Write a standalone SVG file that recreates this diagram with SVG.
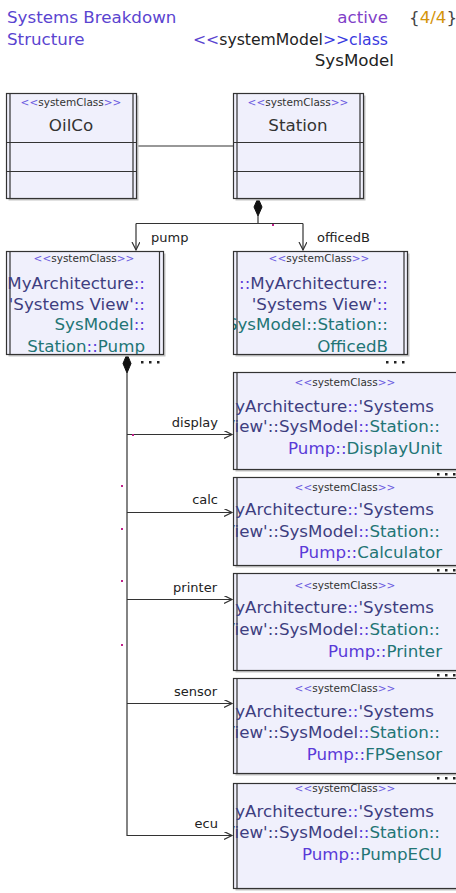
<svg xmlns="http://www.w3.org/2000/svg" width="456" height="893" viewBox="0 0 456 893">
<style>
text{font-family:"DejaVu Sans",Verdana,sans-serif}
.box{fill:#f0f0fc;stroke:#333;stroke-width:1.2}
.sh{fill:#c4c4c4}
.ln{stroke:#333;stroke-width:1.2;fill:none}
.st{font-size:10.5px;fill:#333;text-anchor:middle}
.g{fill:#6a5ae0}
.nm{font-size:16.7px;text-anchor:end}
.nc{font-size:16.7px;text-anchor:middle;fill:#333}
.nv{fill:#3e3e80}
.tl{fill:#227575}
.pp{fill:#5a3ad8}
.lbl{font-size:13px;fill:#222;text-anchor:end}
.lbs{font-size:13px;fill:#222;text-anchor:start}
.dot{fill:#222}
.mk{fill:#c0208a}
.hd{font-size:16.7px}
</style>
<defs>
<marker id="oa" markerWidth="10" markerHeight="10" refX="8" refY="4" orient="auto" markerUnits="userSpaceOnUse"><path d="M0,0 L8,4 L0,8" fill="none" stroke="#333" stroke-width="1.2"/></marker>
<clipPath id="cpump"><rect x="7" y="252" width="151" height="102"/></clipPath>
<clipPath id="coff"><rect x="234" y="252" width="170" height="102"/></clipPath>
<clipPath id="cright"><rect x="234" y="360" width="222" height="533"/></clipPath>
</defs>

<g id="header">
<text class="hd" x="7" y="23" fill="#5a44d0">Systems Breakdown</text>
<text class="hd" x="7" y="45" fill="#5a44d0">Structure</text>
<text class="hd" x="388" y="23" fill="#8040c8" text-anchor="end">active</text>
<text class="hd" x="409" y="23" fill="#444">{<tspan fill="#d4940a">4/4</tspan>}</text>
<text class="hd" x="388" y="45" text-anchor="end" textLength="195" lengthAdjust="spacingAndGlyphs"><tspan fill="#5a44d0">&lt;&lt;</tspan><tspan fill="#222">systemModel</tspan><tspan fill="#3a3ae0">&gt;&gt;class</tspan></text>
<text class="hd" x="394" y="66" fill="#222" text-anchor="end">SysModel</text>
</g>

<g id="connectors">
<path class="ln" d="M137,146 H233"/>
<polygon points="258,198 262,207 258,216 254,207" fill="#111" stroke="#111"/>
<path class="ln" d="M258,216 V223.5"/>
<path class="ln" d="M136,223.5 H303"/>
<path class="ln" d="M136,223.5 V250" marker-end="url(#oa)"/>
<path class="ln" d="M303,223.5 V250" marker-end="url(#oa)"/>
<text class="lbs" x="151" y="242">pump</text>
<text class="lbs" x="317" y="242">officedB</text>
<polygon points="127,354 131,363.5 127,373 123,363.5" fill="#111" stroke="#111"/>
<path class="ln" d="M127,373 V835.5 H232" marker-end="url(#oa)"/>
<path class="ln" d="M127,434.5 H232" marker-end="url(#oa)"/>
<path class="ln" d="M127,512.5 H232" marker-end="url(#oa)"/>
<path class="ln" d="M127,599.5 H232" marker-end="url(#oa)"/>
<path class="ln" d="M127,703.5 H232" marker-end="url(#oa)"/>
<text class="lbl" x="218" y="427">display</text>
<text class="lbl" x="218" y="504">calc</text>
<text class="lbl" x="217" y="592">printer</text>
<text class="lbl" x="217" y="696">sensor</text>
<text class="lbl" x="218" y="828">ecu</text>
<rect class="mk" x="272" y="224" width="2" height="2"/>
<rect class="mk" x="132" y="434" width="2" height="2"/>
<rect class="mk" x="121" y="485" width="2" height="2"/>
<rect class="mk" x="121" y="528" width="2" height="2"/>
<rect class="mk" x="121" y="580" width="2" height="2"/>
<rect class="mk" x="121" y="644" width="2" height="2"/>
</g>

<g id="oilco">
<rect class="sh" x="8.5" y="95.5" width="130" height="105"/>
<rect class="box" x="6.5" y="93.5" width="130" height="105"/>
<path class="ln" d="M10,93.5 V198.5 M133,93.5 V198.5 M6.5,142.5 H136.5 M6.5,171.5 H136.5"/>
<text class="st" x="71" y="106"><tspan class="g">&lt;&lt;</tspan>systemClass<tspan class="g">&gt;&gt;</tspan></text>
<text class="nc" x="71" y="131">OilCo</text>
</g>

<g id="station">
<rect class="sh" x="235.5" y="95.5" width="130" height="105"/>
<rect class="box" x="233.5" y="93.5" width="130" height="105"/>
<path class="ln" d="M237,93.5 V198.5 M360,93.5 V198.5 M233.5,142.5 H363.5 M233.5,171.5 H363.5"/>
<text class="st" x="298" y="106"><tspan class="g">&lt;&lt;</tspan>systemClass<tspan class="g">&gt;&gt;</tspan></text>
<text class="nc" x="298" y="131">Station</text>
</g>

<g id="pump">
<rect class="sh" x="8.5" y="253.5" width="157" height="103"/>
<rect class="box" x="6.5" y="251.5" width="157" height="103"/>
<path class="ln" d="M10,251.5 V354.5 M159.5,251.5 V354.5"/>
<text class="st" x="84" y="262"><tspan class="g">&lt;&lt;</tspan>systemClass<tspan class="g">&gt;&gt;</tspan></text>
<g clip-path="url(#cpump)">
<text class="nm" x="145" y="289"><tspan class="nv">MyArchitecture</tspan><tspan class="pp">::</tspan></text>
<text class="nm" x="145" y="310"><tspan class="nv">'Systems View'</tspan><tspan class="pp">::</tspan></text>
<text class="nm" x="145" y="330"><tspan class="tl">SysModel</tspan><tspan class="pp">::</tspan></text>
<text class="nm" x="145" y="352"><tspan class="tl">Station</tspan><tspan class="pp">::</tspan><tspan class="tl">Pump</tspan></text>
</g>
<rect class="dot" x="141" y="361" width="2.5" height="2.5"/>
<rect class="dot" x="149" y="361" width="2.5" height="2.5"/>
<rect class="dot" x="157" y="361" width="2.5" height="2.5"/>
</g>

<g id="officedb">
<rect class="sh" x="235.5" y="253.5" width="174" height="103"/>
<rect class="box" x="233.5" y="251.5" width="174" height="103"/>
<path class="ln" d="M237,251.5 V354.5 M404,251.5 V354.5"/>
<text class="st" x="319" y="262"><tspan class="g">&lt;&lt;</tspan>systemClass<tspan class="g">&gt;&gt;</tspan></text>
<g clip-path="url(#coff)">
<text class="nm" x="388" y="289"><tspan class="pp">::</tspan><tspan class="nv">MyArchitecture</tspan><tspan class="pp">::</tspan></text>
<text class="nm" x="388" y="310"><tspan class="nv">'Systems View'</tspan><tspan class="pp">::</tspan></text>
<text class="nm" x="388" y="330"><tspan class="tl">SysModel::Station::</tspan></text>
<text class="nm" x="388" y="352"><tspan class="tl">OfficedB</tspan></text>
</g>
<rect class="dot" x="386" y="361" width="2.5" height="2.5"/>
<rect class="dot" x="394" y="361" width="2.5" height="2.5"/>
<rect class="dot" x="402" y="361" width="2.5" height="2.5"/>
</g>

<g id="displayunit">
<rect class="sh" x="235.5" y="374.5" width="240" height="97"/>
<rect class="box" x="233.5" y="372.5" width="240" height="97"/>
<path class="ln" d="M237,372.5 V469.5"/>
<text class="st" x="345" y="386"><tspan class="g">&lt;&lt;</tspan>systemClass<tspan class="g">&gt;&gt;</tspan></text>
<g clip-path="url(#cright)">
<text class="nm" x="434" y="412"><tspan class="nv">MyArchitecture</tspan><tspan class="pp">::</tspan><tspan class="nv">'Systems</tspan></text>
<text class="nm" x="440" y="432"><tspan class="nv">View'::SysModel</tspan><tspan class="pp">::</tspan><tspan class="tl">Station::</tspan></text>
<text class="nm" x="442" y="454"><tspan class="pp">Pump::</tspan><tspan class="tl">DisplayUnit</tspan></text>
</g>
<rect class="dot" x="437" y="473" width="2.5" height="2.5"/>
<rect class="dot" x="445" y="473" width="2.5" height="2.5"/>
<rect class="dot" x="453" y="473" width="2.5" height="2.5"/>
</g>

<g id="calculator">
<rect class="sh" x="235.5" y="479.5" width="240" height="88"/>
<rect class="box" x="233.5" y="477.5" width="240" height="88"/>
<path class="ln" d="M237,477.5 V565.5"/>
<text class="st" x="345" y="491"><tspan class="g">&lt;&lt;</tspan>systemClass<tspan class="g">&gt;&gt;</tspan></text>
<g clip-path="url(#cright)">
<text class="nm" x="434" y="515"><tspan class="nv">MyArchitecture</tspan><tspan class="pp">::</tspan><tspan class="nv">'Systems</tspan></text>
<text class="nm" x="440" y="537"><tspan class="nv">View'::SysModel</tspan><tspan class="pp">::</tspan><tspan class="tl">Station::</tspan></text>
<text class="nm" x="442" y="558"><tspan class="pp">Pump::</tspan><tspan class="tl">Calculator</tspan></text>
</g>
<rect class="dot" x="437" y="569" width="2.5" height="2.5"/>
<rect class="dot" x="445" y="569" width="2.5" height="2.5"/>
<rect class="dot" x="453" y="569" width="2.5" height="2.5"/>
</g>

<g id="printer">
<rect class="sh" x="235.5" y="575.5" width="240" height="97"/>
<rect class="box" x="233.5" y="573.5" width="240" height="97"/>
<path class="ln" d="M237,573.5 V670.5"/>
<text class="st" x="345" y="589"><tspan class="g">&lt;&lt;</tspan>systemClass<tspan class="g">&gt;&gt;</tspan></text>
<g clip-path="url(#cright)">
<text class="nm" x="434" y="613"><tspan class="nv">MyArchitecture</tspan><tspan class="pp">::</tspan><tspan class="nv">'Systems</tspan></text>
<text class="nm" x="440" y="635"><tspan class="nv">View'::SysModel</tspan><tspan class="pp">::</tspan><tspan class="tl">Station::</tspan></text>
<text class="nm" x="442" y="657"><tspan class="pp">Pump::</tspan><tspan class="tl">Printer</tspan></text>
</g>
<rect class="dot" x="437" y="674" width="2.5" height="2.5"/>
<rect class="dot" x="445" y="674" width="2.5" height="2.5"/>
<rect class="dot" x="453" y="674" width="2.5" height="2.5"/>
</g>

<g id="fpsensor">
<rect class="sh" x="235.5" y="680.5" width="240" height="95"/>
<rect class="box" x="233.5" y="678.5" width="240" height="95"/>
<path class="ln" d="M237,678.5 V773.5"/>
<text class="st" x="345" y="692"><tspan class="g">&lt;&lt;</tspan>systemClass<tspan class="g">&gt;&gt;</tspan></text>
<g clip-path="url(#cright)">
<text class="nm" x="434" y="717"><tspan class="nv">MyArchitecture</tspan><tspan class="pp">::</tspan><tspan class="nv">'Systems</tspan></text>
<text class="nm" x="440" y="738"><tspan class="nv">View'::SysModel</tspan><tspan class="pp">::</tspan><tspan class="tl">Station::</tspan></text>
<text class="nm" x="442" y="760"><tspan class="pp">Pump::</tspan><tspan class="tl">FPSensor</tspan></text>
</g>
<rect class="dot" x="437" y="777" width="2.5" height="2.5"/>
<rect class="dot" x="445" y="777" width="2.5" height="2.5"/>
<rect class="dot" x="453" y="777" width="2.5" height="2.5"/>
</g>

<g id="pumpecu">
<rect class="sh" x="235.5" y="785.5" width="240" height="105"/>
<rect class="box" x="233.5" y="783.5" width="240" height="105"/>
<path class="ln" d="M237,783.5 V888.5"/>
<text class="st" x="345" y="792"><tspan class="g">&lt;&lt;</tspan>systemClass<tspan class="g">&gt;&gt;</tspan></text>
<g clip-path="url(#cright)">
<text class="nm" x="434" y="817"><tspan class="nv">MyArchitecture</tspan><tspan class="pp">::</tspan><tspan class="nv">'Systems</tspan></text>
<text class="nm" x="440" y="838"><tspan class="nv">View'::SysModel</tspan><tspan class="pp">::</tspan><tspan class="tl">Station::</tspan></text>
<text class="nm" x="442" y="860"><tspan class="pp">Pump::</tspan><tspan class="tl">PumpECU</tspan></text>
</g>
</g>
</svg>
